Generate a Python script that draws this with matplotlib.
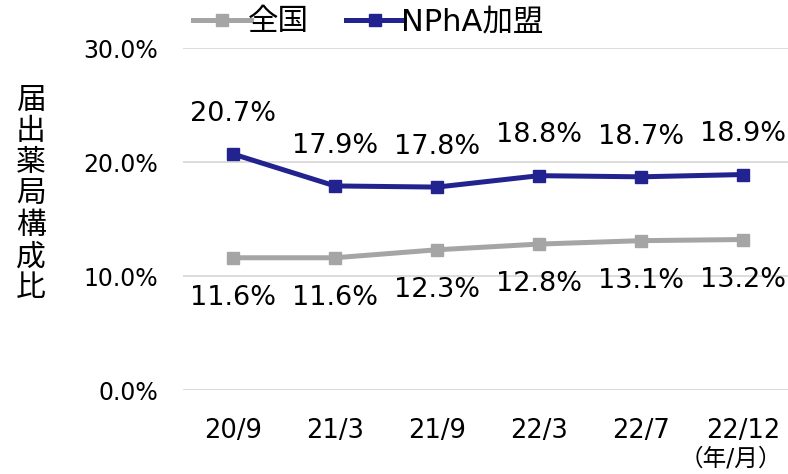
import matplotlib
matplotlib.use("Agg")
import matplotlib.pyplot as plt

plt.rcParams['font.family'] = ['DejaVu Sans', 'Noto Sans CJK JP']

# data
periods = ["20/9", "21/3", "21/9", "22/3", "22/7", "22/12"]
national = [11.6, 11.6, 12.3, 12.8, 13.1, 13.2]
npha = [20.7, 17.9, 17.8, 18.8, 18.7, 18.9]
yticks = [0, 10, 20, 30]

grey = "#A5A5A5"
navy = "#23238F"

fig = plt.figure(figsize=(7.88, 4.74), dpi=100)
ax = fig.add_axes([183 / 788, 1 - 390 / 474, 605 / 788, 342 / 474])

x = list(range(len(periods)))
ax.plot(x, national, color=grey, lw=3.6, marker="s", ms=9, label="全国")
ax.plot(x, npha, color=navy, lw=3.6, marker="s", ms=9, label="NPhA加盟")

# data labels
for xi, v in zip(x, npha):
    ax.annotate(f"{v:.1f}%", (xi, v), xytext=(0, 29), textcoords="offset points",
                ha="center", va="center", fontsize=19.5)
for xi, v in zip(x, national):
    ax.annotate(f"{v:.1f}%", (xi, v), xytext=(0, -29), textcoords="offset points",
                ha="center", va="center", fontsize=19.5)

ax.set_ylim(0, 30)
ax.set_xlim(-0.49, 5.44)
ax.set_yticks(yticks)
ax.set_yticklabels([f"{t:.1f}%" for t in yticks], fontsize=17)
ax.set_xticks(x)
ax.set_xticklabels(periods, fontsize=18.5)
ax.tick_params(axis="both", length=0)
ax.tick_params(axis="y", pad=18)
ax.tick_params(axis="x", pad=20)
ax.grid(axis="y", color="#D9D9D9", lw=1.3)
ax.set_axisbelow(True)
for s in ax.spines.values():
    s.set_visible(False)

fig.text(31 / 788, 1 - 194 / 474, "届\n出\n薬\n局\n構\n成\n比", ha="center", va="center",
         fontsize=21.5, linespacing=1.1)
fig.text(731 / 788, 1 - 458 / 474, "（年/月）", ha="center", va="center", fontsize=17)

ax.legend(loc="center left", bbox_to_anchor=(178 / 788, 1 - 22 / 474),
          bbox_transform=fig.transFigure, ncol=2, frameon=False, fontsize=22,
          handlelength=1.9, handletextpad=-0.1, columnspacing=1.2, borderpad=0)

fig.savefig("out.png", dpi=100)
